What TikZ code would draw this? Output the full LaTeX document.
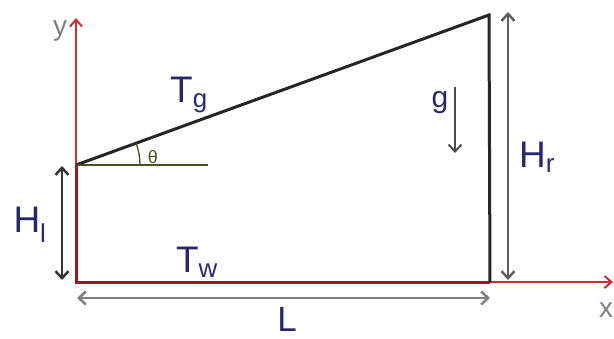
\documentclass[tikz,border=0pt]{standalone}
\usepackage{xcolor}
\usepackage{fontspec}
\setmainfont{Liberation Sans}
\usepackage{tikz}
\usetikzlibrary{positioning,arrows.meta}
\definecolor{WallRed}{RGB}{150,25,35}
\definecolor{AxisRed}{RGB}{205,45,55}
\definecolor{LabelBlue}{RGB}{40,40,110}
\definecolor{DimGray}{RGB}{95,95,95}
\definecolor{OliveLine}{RGB}{70,80,35}

\begin{document}
\begin{tikzpicture}[
  x=1pt, y=-1pt,
  wall/.style={draw=WallRed, line width=3pt},
  roof/.style={draw=black!85, line width=3pt},
  axis/.style={draw=AxisRed, line width=1.5pt, -{Straight Barb[length=7pt,width=12pt,line width=2pt]}},
  dim/.style={draw=DimGray, line width=2.5pt, {Straight Barb[length=7pt,width=13pt]}-{Straight Barb[length=7pt,width=13pt]}},
  lbl/.style={text=LabelBlue, font=\fontsize{37}{37}\selectfont, inner sep=0pt},
  axlbl/.style={text=gray, font=\fontsize{28}{28}\selectfont, inner sep=0pt}
]
\useasboundingbox (0,0) rectangle (614,338);

\coordinate (bl) at (76,282);
\coordinate (br) at (490,282);
\coordinate (tl) at (76,165);
\coordinate (tr) at (489,15);
\coordinate (ytip) at (76,18);
\coordinate (xtip) at (613,282);
\coordinate (flat) at (208,165);

\draw[axis] (tl) -- (ytip);
\draw[axis] (br) -- (xtip);
\draw[wall] (tl) -- (bl) -- (br);
\draw[roof] (tl) -- (tr) -- (br);
\draw[draw=OliveLine, line width=2pt] (tl) -- (flat);
\draw[draw=OliveLine, line width=1.3pt] ([shift={(64,0)}]tl) arc[start angle=0, end angle=-20, radius=64];

\node[axlbl] (ylab) at (60,31) {y};
\node[axlbl] (xlab) at (606,310) {x};
\node[text=OliveLine, font=\fontsize{18}{18}\selectfont, inner sep=0pt] (theta) at (153,157) {θ};
\node[lbl] (tg) at (189,95) {T\textsubscript{g}};
\node[lbl] (tw) at (197,262) {T\textsubscript{w}};

% gravity
\coordinate (gtop) at (455,87);
\coordinate (gbot) at (455,153);
\draw[draw=DimGray!80!black, line width=2pt, -{Straight Barb[length=7pt,width=13pt]}] (gtop) -- (gbot);
\node[lbl, font=\fontsize{30}{30}\selectfont] (glab) at (440,103) {g};

% dimensions
\coordinate (hrtop) at (508,12);
\coordinate (hrbot) at (508,280);
\draw[dim] (hrtop) -- (hrbot);
\node[lbl] (hr) at (537,157) {H\textsubscript{r}};

\coordinate (hltop) at (62,166);
\coordinate (hlbot) at (62,280);
\draw[dim, draw=black!80] (hltop) -- (hlbot);
\node[lbl] (hl) at (30,225) {H\textsubscript{l}};

\coordinate (lleft) at (77,298);
\coordinate (lright) at (490,298);
\draw[dim, draw=gray] (lleft) -- (lright);
\node[lbl, font=\fontsize{35}{35}\selectfont] (llab) at (287,319) {L};
\end{tikzpicture}
\end{document}
